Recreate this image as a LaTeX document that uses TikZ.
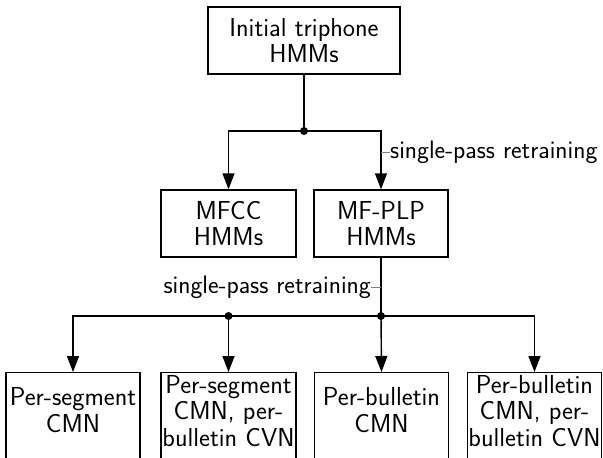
\documentclass[tikz,border=0pt]{standalone}
\usetikzlibrary{arrows.meta}
\begin{document}
\begin{tikzpicture}[x=1pt,y=-1pt,
  font=\sffamily\fontsize{26}{26.5}\selectfont,
  box/.style={draw,line width=1.4pt,align=center,inner sep=0pt},
  conn/.style={line width=1.4pt,-{Triangle[length=16pt,width=12pt]}},
  plain/.style={line width=1.4pt},
  dot/.style={circle,fill,inner sep=0pt,minimum size=8pt},
  tick/.style={gray,line width=0.8pt},
  lbl/.style={inner sep=0pt,font=\sffamily\fontsize{25.3}{26}\selectfont},
  txt/.style={align=center,inner sep=0pt}]
\useasboundingbox (0,0) rectangle (603,458);
\node[box,minimum width=192,minimum height=67] (init) at (304,40.5) {Initial triphone\\HMMs};
\node[box,minimum width=135,minimum height=67] (mfcc) at (228.5,223.5) {MFCC\\HMMs};
\node[box,minimum width=134,minimum height=67] (plp) at (381,223.5) {MF-PLP\\HMMs};
\node[dot] (d0) at (304,131) {};
\draw[plain] (init.south) -- (d0.center);
\draw[conn] (d0.center) -| (mfcc.north);
\draw[conn] (d0.center) -| (plp.north);
\node[lbl,anchor=west] (l1) at (390,152) {single-pass retraining};
\coordinate (t1) at (381,152);
\draw[tick] (l1.west) -- (t1);
\node[dot] (d1) at (228.5,316) {};
\node[dot] (d2) at (381,316) {};
\draw[plain] (plp.south) -- (d2.center);
\draw[plain] (d1.center) -- (d2.center);
\node[lbl,anchor=east] (l2) at (371,287) {single-pass retraining};
\coordinate (t2) at (381,287);
\draw[tick] (l2.east) -- (t2);
\node[box,anchor=north,minimum width=134,minimum height=95] (b1) at (73,372) {};
\node[box,anchor=north,minimum width=135,minimum height=95] (b2) at (228.5,372) {};
\node[box,anchor=north,minimum width=134,minimum height=95] (b3) at (381.5,372) {};
\node[box,anchor=north,minimum width=134,minimum height=95] (b4) at (534.5,372) {};
\node[txt] (x1) at (73,410) {Per-segment\\CMN};
\node[txt] (x2) at (228.5,411) {Per-segment\\CMN, per-\\bulletin CVN};
\node[txt] (x3) at (381.5,410) {Per-bulletin\\CMN};
\node[txt] (x4) at (534.5,411) {Per-bulletin\\CMN, per-\\bulletin CVN};
\draw[conn] (d1.center) -| (b1.north);
\draw[conn] (d1.center) -- (b2.north);
\draw[conn] (d2.center) -- (b3.north);
\draw[conn] (d2.center) -| (b4.north);
\end{tikzpicture}
\end{document}
